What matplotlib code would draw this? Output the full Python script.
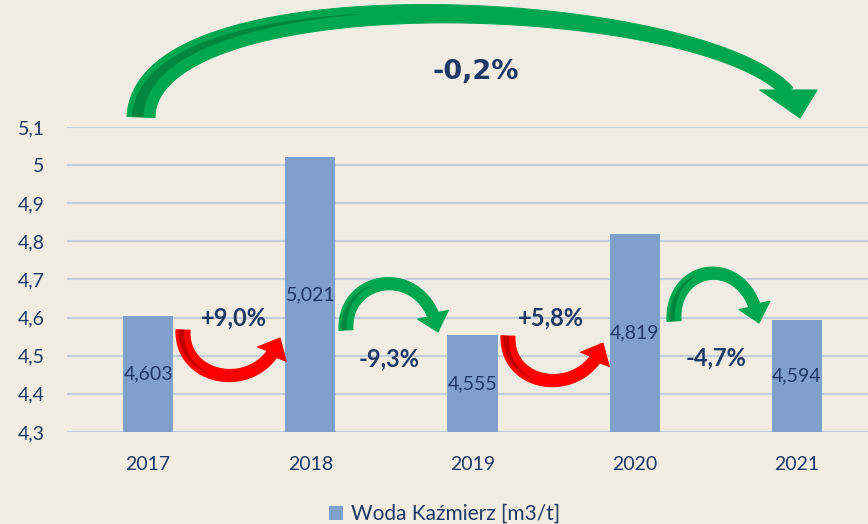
import numpy as np
import matplotlib
matplotlib.use("Agg")
import matplotlib.pyplot as plt
from matplotlib.patches import Polygon

# ---- data ----
years = ["2017", "2018", "2019", "2020", "2021"]
values = [4.603, 5.021, 4.555, 4.819, 4.594]
series_name = "Woda Kaźmierz [m3/t]"
change_labels = ["+9,0%", "-9,3%", "+5,8%", "-4,7%"]
total_change_label = "-0,2%"
y_ticks = [4.3, 4.4, 4.5, 4.6, 4.7, 4.8, 4.9, 5.0, 5.1]

# ---- style ----
BG = "#F2EDE3"
BAR = "#7FA0CB"
GRID = "#C3CDDB"
TXT = "#1F3864"
GREEN = "#00A650"
GREEN_D = "#00863F"
RED = "#FF0000"
RED_D = "#C00000"
plt.rcParams['font.family'] = ['Lato', 'DejaVu Sans']

W, H = 868, 524
fig = plt.figure(figsize=(W / 100, H / 100), dpi=100, facecolor=BG)

left_px, right_px, top_px, bot_px = 67, 868, 127, 432
ax = fig.add_axes([left_px / W, 1 - bot_px / H, (right_px - left_px) / W, (bot_px - top_px) / H])
ax.set_facecolor("none")
x = np.arange(len(years))
bars = ax.bar(x, values, width=0.31, color=BAR, zorder=2, label=series_name)
ax.set_xlim(-0.5, (right_px - 148) / 162.25)
ax.set_ylim(y_ticks[0], y_ticks[-1])
ax.set_yticks(y_ticks)
ax.set_yticklabels([f"{v:g}".replace(".", ",") for v in y_ticks])
ax.set_xticks(x)
ax.set_xticklabels(years)
for s in ax.spines.values():
    s.set_visible(False)
ax.grid(axis="y", color=GRID, lw=1.6, zorder=0)
ax.tick_params(axis="y", length=0, pad=16, labelsize=14, labelcolor=TXT)
ax.tick_params(axis="x", length=0, pad=17, labelsize=14, labelcolor=TXT)

for xi, v in zip(x, values):
    ax.text(xi, (y_ticks[0] + v) / 2, f"{v:.3f}".replace(".", ","), ha="center", va="center",
            fontsize=14, color=TXT, zorder=3)

fig.legend(handles=[bars], labels=[series_name], loc="center",
           bbox_to_anchor=(445 / W, 1 - 514 / H), frameon=False, fontsize=15,
           handlelength=0.65, handleheight=0.65, handletextpad=0.4, labelcolor=TXT)

# ---- overlay in pixel coordinates for decorative arrows ----
ov = fig.add_axes([0, 0, 1, 1], zorder=5)
ov.set_xlim(0, W)
ov.set_ylim(H, 0)
ov.axis("off")
ov.patch.set_alpha(0)


def curved_arrow(P, w0, w1, hw, hl, color, dark, head=None):
    P = np.array(P, float)
    t = np.linspace(0, 1, 500)[:, None]
    B = (1 - t) ** 3 * P[0] + 3 * (1 - t) ** 2 * t * P[1] + 3 * (1 - t) * t ** 2 * P[2] + t ** 3 * P[3]
    if head is None:
        tip = P[3]
        d = np.hypot(*(B - tip).T)
        idx = np.where(d >= hl)[0][-1]
        S = B[:idx + 1]
    else:
        S = B
    base = S[-1]
    tan = np.gradient(S, axis=0)
    tan /= np.hypot(*tan.T)[:, None]
    nrm = np.stack([-tan[:, 1], tan[:, 0]], 1)
    s = np.linspace(0, 1, len(S))
    w = w1 + (w0 - w1) * (1 - s) ** 1.5
    lft = S + nrm * w[:, None] / 2
    rgt = S - nrm * w[:, None] / 2
    if head is None:
        hd = (tip - base) / np.hypot(*(tip - base))
        hn = np.array([-hd[1], hd[0]])
        poly = np.vstack([lft, base + hn * hw / 2, tip, base - hn * hw / 2, rgt[::-1]])
        ov.add_patch(Polygon(poly, closed=True, fc=color, ec=color, lw=0.8, joinstyle="round"))
    else:
        poly = np.vstack([lft, rgt[::-1]])
        ov.add_patch(Polygon(poly, closed=True, fc=color, ec=color, lw=0.8, joinstyle="round"))
        ov.add_patch(Polygon(np.array(head, float), closed=True, fc=color, ec=color, lw=0.8,
                             joinstyle="round"))
    # darker shading stripe on the first part of the shaft
    m = s <= 0.42
    Sd, nd, sd = S[m], nrm[m], s[m]
    wd = 0.42 * w[m] * (1 - sd / 0.42) ** 0.7
    off = 0.12 * w[m]
    inner = -np.sign(np.cross(np.append(tan[0], 0), np.append(tan[len(S) // 2], 0))[2])
    c = Sd + nd * (off * inner)[:, None]
    poly2 = np.vstack([c + nd * wd[:, None] / 2, (c - nd * wd[:, None] / 2)[::-1]])
    ov.add_patch(Polygon(poly2, closed=True, fc=dark, ec="none"))


# small arrows between bars
curved_arrow([(183, 330), (181, 384), (262, 394), (280, 338)], 14, 11.5, 32, 18, RED, RED_D)
curved_arrow([(346, 330), (343, 274), (426, 262), (438, 332)], 14, 11.5, 32, 18, GREEN, GREEN_D)
curved_arrow([(508, 336), (506, 390), (586, 398), (603, 343)], 14, 11.5, 32, 18, RED, RED_D)
curved_arrow([(674, 321), (671, 262), (748, 252), (759, 323)], 14, 11.5, 32, 18, GREEN, GREEN_D)
# large arrow over the whole period
curved_arrow([(141, 117), (146, -28), (700, -5), (788, 92)], 28, 13, 0, 0, GREEN, GREEN_D,
             head=[(760, 90), (817, 90), (800, 118)])

label_pos = [(234, 318), (389, 359), (551, 318), (716, 358)]
for (px, py), lab in zip(label_pos, change_labels):
    ov.text(px, py, lab, ha="center", va="center", fontsize=17, fontweight="bold", color=TXT)
ov.text(476, 72, total_change_label, ha="center", va="center", fontsize=19.5,
        fontweight="bold", color=TXT, family=["DejaVu Sans"])

fig.savefig("out.png", dpi=100, facecolor=BG)
